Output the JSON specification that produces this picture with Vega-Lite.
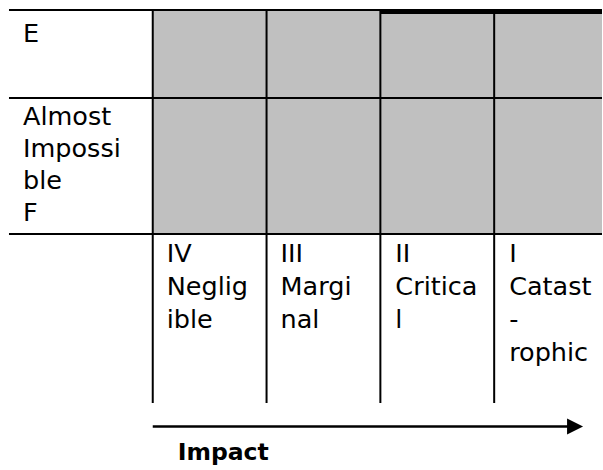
{
  "$schema": "https://vega.github.io/schema/vega-lite/v6.json",
  "width": 603,
  "height": 470,
  "autosize": {"type": "fit", "contains": "padding"},
  "padding": 0,
  "background": "white",
  "config": {"view": {"stroke": null}},
  "datasets": {
    "cells": [
      {"x": 153, "x2": 603, "y": 10, "y2": 234}
    ],
    "hlines": [
      {"x": 9, "x2": 603, "y": 10},
      {"x": 9, "x2": 603, "y": 98},
      {"x": 9, "x2": 603, "y": 234}
    ],
    "vlines": [
      {"x": 153, "y": 10, "y2": 403},
      {"x": 267, "y": 10, "y2": 403},
      {"x": 381, "y": 10, "y2": 403},
      {"x": 495, "y": 10, "y2": 403}
    ],
    "thick": [
      {"x": 381, "x2": 603, "y": 9, "y2": 14}
    ],
    "arrow": [
      {"x": 153, "x2": 570, "y": 426.5}
    ],
    "head": [
      {"x": 576, "y": 426.5}
    ],
    "rowlabels": [
      {"x": 23, "y": 42, "label": ["E"]},
      {"x": 23, "y": 125, "label": ["Almost", "Impossi", "ble", "F"]}
    ],
    "collabels": [
      {"x": 167, "y": 262, "label": ["IV", "Neglig", "ible"]},
      {"x": 281, "y": 262, "label": ["III", "Margi", "nal"]},
      {"x": 396, "y": 262, "label": ["II", "Critica", "l"]},
      {"x": 510, "y": 262, "label": ["I", "Catast", "-", "rophic"]}
    ],
    "title": [
      {"x": 178, "y": 460, "label": "Impact"}
    ]
  },
  "layer": [
    {
      "data": {"name": "cells"},
      "mark": {"type": "rect", "color": "#C0C0C0"},
      "encoding": {
        "x": {"field": "x", "type": "quantitative", "scale": {"domain": [0, 603], "nice": false, "zero": false}, "axis": null},
        "x2": {"field": "x2"},
        "y": {"field": "y", "type": "quantitative", "scale": {"domain": [470, 0], "nice": false, "zero": false}, "axis": null},
        "y2": {"field": "y2"}
      }
    },
    {
      "data": {"name": "hlines"},
      "mark": {"type": "rule", "color": "black", "strokeWidth": 2},
      "encoding": {
        "x": {"field": "x", "type": "quantitative"},
        "x2": {"field": "x2"},
        "y": {"field": "y", "type": "quantitative"}
      }
    },
    {
      "data": {"name": "vlines"},
      "mark": {"type": "rule", "color": "black", "strokeWidth": 2},
      "encoding": {
        "x": {"field": "x", "type": "quantitative"},
        "y": {"field": "y", "type": "quantitative"},
        "y2": {"field": "y2"}
      }
    },
    {
      "data": {"name": "thick"},
      "mark": {"type": "rect", "color": "black"},
      "encoding": {
        "x": {"field": "x", "type": "quantitative"},
        "x2": {"field": "x2"},
        "y": {"field": "y", "type": "quantitative"},
        "y2": {"field": "y2"}
      }
    },
    {
      "data": {"name": "arrow"},
      "mark": {"type": "rule", "color": "black", "strokeWidth": 2.7},
      "encoding": {
        "x": {"field": "x", "type": "quantitative"},
        "x2": {"field": "x2"},
        "y": {"field": "y", "type": "quantitative"}
      }
    },
    {
      "data": {"name": "head"},
      "mark": {"type": "point", "shape": "M-1,-1L1,0L-1,1Z", "filled": true, "color": "black", "opacity": 1, "size": 256},
      "encoding": {
        "x": {"field": "x", "type": "quantitative"},
        "y": {"field": "y", "type": "quantitative"}
      }
    },
    {
      "data": {"name": "rowlabels"},
      "mark": {"type": "text", "align": "left", "baseline": "alphabetic", "font": "DejaVu Sans", "fontSize": 25.5, "lineHeight": 32, "color": "black"},
      "encoding": {
        "x": {"field": "x", "type": "quantitative"},
        "y": {"field": "y", "type": "quantitative"},
        "text": {"field": "label"}
      }
    },
    {
      "data": {"name": "collabels"},
      "mark": {"type": "text", "align": "left", "baseline": "alphabetic", "font": "DejaVu Sans", "fontSize": 25.5, "lineHeight": 33, "color": "black"},
      "encoding": {
        "x": {"field": "x", "type": "quantitative"},
        "y": {"field": "y", "type": "quantitative"},
        "text": {"field": "label"}
      }
    },
    {
      "data": {"name": "title"},
      "mark": {"type": "text", "align": "left", "baseline": "alphabetic", "font": "DejaVu Sans", "fontSize": 23.5, "fontWeight": "bold", "color": "black"},
      "encoding": {
        "x": {"field": "x", "type": "quantitative"},
        "y": {"field": "y", "type": "quantitative"},
        "text": {"field": "label"}
      }
    }
  ]
}
